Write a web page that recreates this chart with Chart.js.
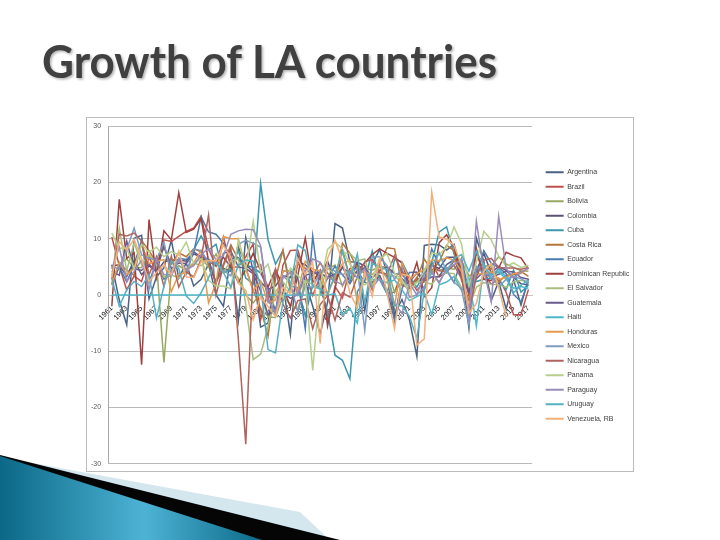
<!DOCTYPE html>
<html>
<head>
<meta charset="utf-8">
<script src="https://cdn.jsdelivr.net/npm/chart.js@4.4.1/dist/chart.umd.min.js"></script>
<style>
    html, body { margin: 0; padding: 0; background: #fff; }
    body { width: 720px; height: 540px; position: relative; overflow: hidden; }
    #deco { position: absolute; left: 0; top: 0; }
    #frame { position: absolute; left: 86px; top: 117px; width: 548px; height: 355px;
             border: 1px solid #bcbcbc; box-sizing: border-box; background: #fff; }
    #wrap { position: absolute; left: -7px; top: -3px; width: 552px; height: 360px; }
</style>
</head>
<body>
<svg id="deco" width="720" height="540" viewBox="0 0 720 540">
    <defs>
        <linearGradient id="blueGrad" gradientUnits="userSpaceOnUse" x1="0" y1="0" x2="262" y2="0">
            <stop offset="0" stop-color="#0b6886"/>
            <stop offset="0.55" stop-color="#4db3d5"/>
            <stop offset="1" stop-color="#0c6a89"/>
        </linearGradient>
        <filter id="shadow" x="-5%" y="-20%" width="110%" height="150%">
            <feDropShadow dx="1.5" dy="1.5" stdDeviation="1" flood-color="#000" flood-opacity="0.3"/>
        </filter>
    </defs>
    <polygon points="22,461 300,512 330,540 0,540" fill="#d4e7ee"/>
    <polygon points="0,455 340,540 0,540" fill="#050505"/>
    <polygon points="0,456 262,540 0,540" fill="url(#blueGrad)"/>
    <text x="42" y="78" font-family="Lato" font-weight="700" font-size="46" fill="#404040"
          textLength="455" lengthAdjust="spacingAndGlyphs" filter="url(#shadow)">Growth of LA countries</text>
</svg>
<div id="frame"><div id="wrap"><canvas id="growthChart"></canvas></div></div>
<script>
// GDP growth (annual %), 1961-2017
const years = [];
for (let y = 1961; y <= 2017; y++) years.push(String(y));

const countries = ['Argentina', 'Brazil', 'Bolivia', 'Colombia', 'Cuba', 'Costa Rica', 'Ecuador',
    'Dominican Republic', 'El Salvador', 'Guatemala', 'Haiti', 'Honduras', 'Mexico', 'Nicaragua',
    'Panama', 'Paraguay', 'Uruguay', 'Venezuela, RB'];

const argentina = [5.4, -0.9, -5.3, 10.1, 10.6, -0.7, 3.2, 4.8, 9.7, 3.0,
    5.7, 1.6, 2.8, 5.5, 0.0, -2.0, 6.9, -4.5, 10.2, 4.2,
    -5.7, -5.0, 4.1, 2.0, -7.0, 7.1, 2.5, -2.0, -7.0, -1.3,
    12.7, 11.9, 5.9, 5.8, -2.8, 5.5, 8.1, 3.9, -3.4, -0.8,
    -4.4, -10.9, 8.8, 9.0, 8.9, 8.0, 9.0, 4.1, -5.9, 10.1,
    6.0, -1.0, 2.4, -2.5, 2.7, -1.8, 2.9];
const brazil = [10.3, 5.2, 0.9, 3.4, 2.4, 6.7, 4.2, 9.8, 9.5, 10.4,
    11.3, 11.9, 14.0, 8.2, 5.2, 10.3, 4.9, 5.0, 6.8, 9.1,
    -4.4, 0.6, -3.4, 5.3, 7.9, 8.0, 3.6, -0.1, 3.3, -4.3,
    1.5, -0.5, 4.7, 5.3, 4.4, 2.2, 3.4, 0.3, 0.5, 4.1,
    1.4, 3.1, 1.1, 5.8, 3.2, 4.0, 6.1, 5.1, -0.1, 7.5,
    4.0, 1.9, 3.0, 0.5, -3.5, -3.5, 1.0];
const bolivia = [2.1, 5.6, 6.4, 4.8, 4.9, 7.0, 5.8, -12.0, 4.4, 5.2,
    4.4, 5.5, 6.6, 5.0, 7.3, 4.4, 4.7, 3.0, 0.0, -1.4,
    0.3, -3.9, -4.0, -0.2, -1.7, -2.6, 2.5, 2.9, 3.8, 4.6,
    5.3, 1.6, 4.3, 4.7, 4.7, 4.4, 5.0, 5.0, 0.4, 2.5,
    1.7, 2.5, 2.7, 4.2, 4.4, 4.8, 4.6, 6.1, 3.4, 4.1,
    5.2, 5.1, 6.8, 5.5, 4.9, 4.3, 4.2];
const colombia = [5.1, 5.4, 3.3, 6.2, 3.6, 5.2, 4.1, 5.9, 6.2, 6.2,
    6.0, 7.7, 6.7, 5.8, 2.3, 4.7, 4.2, 8.5, 5.4, 4.1,
    2.3, 1.0, 1.6, 3.4, 3.1, 5.8, 5.4, 4.1, 3.4, 6.0,
    2.3, 5.0, 2.4, 5.8, 5.2, 2.1, 3.4, 0.6, -4.2, 2.9,
    1.7, 2.5, 3.9, 5.3, 4.7, 6.7, 6.7, 3.3, 1.2, 4.3,
    7.4, 3.9, 5.1, 4.4, 3.1, 2.0, 1.8];
const cuba = [null, null, null, null, null, null, null, null, null, null,
    3.5, 8.0, 10.5, 8.0, 9.0, 4.0, 4.5, 8.0, 3.0, 2.0,
    19.8, 9.8, 5.5, 7.9, 1.6, 1.3, -3.7, 1.8, 1.3, -2.9,
    -10.7, -11.6, -14.9, 0.6, 2.5, 7.8, 2.7, 0.2, 6.3, 5.9,
    3.2, 1.4, 3.8, 5.8, 11.2, 12.1, 7.3, 4.1, 1.4, 2.4,
    2.8, 3.0, 2.7, 1.0, 4.4, 0.5, 1.8];
const costaRica = [1.8, 5.6, 4.4, 3.5, 9.7, 7.9, 5.7, 8.4, 5.5, 7.5,
    6.8, 8.2, 7.7, 5.5, 2.1, 5.5, 8.9, 6.3, 4.9, 0.8,
    -2.3, -7.3, 2.9, 8.0, 0.7, 5.5, 4.8, 3.4, 5.7, 3.9,
    2.2, 9.2, 7.4, 4.7, 3.9, 0.9, 5.6, 8.4, 8.2, 1.8,
    1.1, 2.9, 6.4, 4.3, 5.9, 8.8, 7.9, 2.7, -1.0, 5.0,
    4.3, 4.8, 2.3, 3.5, 3.6, 4.2, 3.3];
const ecuador = [1.9, 5.0, 2.3, 5.4, 9.7, 2.2, 6.0, 2.8, 3.6, 6.5,
    6.3, 7.5, 13.9, 11.2, 10.8, 9.2, 6.5, 6.6, 5.3, 4.9,
    3.9, 1.2, -2.8, 4.2, 4.3, 3.1, -6.0, 10.5, 0.3, 3.0,
    5.1, 3.6, 2.0, 4.3, 2.3, 1.7, 4.3, 3.3, -4.7, 1.1,
    4.0, 4.1, 2.7, 8.2, 5.3, 4.4, 2.2, 6.4, 0.6, 3.5,
    7.9, 5.6, 4.9, 3.8, 0.1, -1.2, 2.4];
const dominicanRep = [-2.0, 17.0, 6.5, 7.5, -12.4, 13.4, 3.2, 11.4, 9.8, 18.2,
    11.1, 11.7, 13.6, 6.0, 5.2, 6.7, 5.0, 2.2, 4.5, 7.4,
    4.3, 1.4, 4.6, 1.3, -2.1, 3.5, 10.1, 2.2, 4.4, -5.5,
    1.0, 8.0, 3.0, 4.3, 5.7, 7.2, 8.2, 7.4, 6.7, 5.7,
    1.8, 5.8, -0.3, 1.3, 9.3, 10.7, 8.5, 3.1, 0.9, 8.3,
    2.8, 2.6, 4.8, 7.6, 7.0, 6.6, 4.6];
const elSalvador = [3.5, 11.9, 4.3, 9.3, 5.4, 7.2, 5.4, 3.2, 3.6, 3.0,
    4.7, 5.7, 5.2, 6.4, 5.6, 4.0, 6.1, 6.4, -1.7, -11.5,
    -10.5, -5.6, 0.6, 2.3, 0.6, 0.2, 2.5, 1.9, 1.0, 4.8,
    3.6, 7.5, 7.4, 6.1, 6.4, 1.7, 4.2, 3.7, 3.4, 2.2,
    1.7, 2.3, 2.3, 1.9, 3.6, 3.9, 3.8, 1.3, -2.1, 1.4,
    2.2, 1.9, 1.8, 1.4, 2.3, 2.6, 2.3];
const guatemala = [4.3, 3.5, 9.6, 4.6, 4.4, 5.5, 4.1, 8.8, 4.7, 5.7,
    5.6, 7.3, 6.8, 6.4, 2.0, 7.4, 7.8, 5.0, 4.7, 3.8,
    0.7, -3.5, -2.6, 0.5, -0.6, 0.1, 3.5, 3.9, 3.9, 3.1,
    3.7, 4.8, 3.9, 4.0, 4.9, 3.0, 4.4, 5.0, 3.8, 3.6,
    2.3, 3.9, 2.5, 3.2, 3.3, 5.4, 6.3, 3.3, 0.5, 2.9,
    4.2, 3.0, 3.7, 4.2, 4.1, 3.1, 2.8];
const haiti = [0, 0, 0, 0, 0, 0, 0, 0, 0, 0,
    0, 0, 0, 0, 0, 0, 0, 0, 0, 0,
    0, 0, 0, 0, 0, 0, 0, 0, 0, 0,
    0.2, -3.5, -2.4, -5.0, 4.4, 2.7, 2.7, 2.2, 2.7, 0.9,
    -1.0, -0.3, 0.4, -3.5, 1.8, 2.3, 3.3, 0.8, 3.1, -5.5,
    5.5, 2.9, 4.2, 2.8, 1.2, 1.5, 1.2];
const honduras = [1.9, 5.8, 3.6, 4.8, 9.0, 5.6, 6.0, 6.3, 0.6, 3.7,
    4.0, 5.7, 7.9, -1.4, 2.1, 10.4, 10.0, 10.0, 4.7, 0.7,
    2.5, -1.4, -0.9, 4.3, 4.2, 0.7, 6.0, 4.6, 4.3, 0.1,
    3.3, 5.6, 6.2, -1.3, 4.1, 3.6, 5.0, 2.9, -1.9, 5.7,
    2.7, 3.8, 4.5, 6.2, 6.1, 6.6, 6.2, 4.2, -2.4, 3.7,
    3.8, 4.1, 2.8, 3.1, 3.8, 3.8, 4.8];
const mexico = [5.0, 4.7, 8.1, 11.9, 7.1, 6.5, 6.3, 9.4, 3.4, 6.5,
    3.8, 8.2, 7.9, 5.8, 5.7, 4.4, 3.4, 9.0, 9.7, 9.2,
    8.5, -0.5, -3.5, 3.4, 2.2, -3.1, 1.7, 1.3, 4.1, 5.2,
    4.2, 3.6, 4.1, 4.7, -6.3, 6.8, 6.8, 5.2, 2.8, 4.9,
    -0.4, 0.0, 1.4, 3.9, 2.3, 4.5, 2.3, 1.1, -5.3, 5.1,
    3.7, 3.6, 1.4, 2.8, 3.3, 2.9, 2.1];
const nicaragua = [2.8, 10.8, 10.5, 11.0, 9.6, 3.6, 6.8, 1.5, 6.9, 1.4,
    4.1, 3.2, 6.4, 14.2, 0.0, 5.2, 8.4, -7.8, -26.5, 4.6,
    5.4, -0.8, 4.6, -1.6, -4.1, -1.0, -0.7, -6.0, -1.7, -0.1,
    -4.5, 0.4, -0.4, 3.3, 5.9, 6.3, 4.0, 3.7, 7.0, 4.1,
    3.0, 0.8, 2.5, 5.3, 4.3, 4.2, 5.3, 2.9, -2.8, 3.2,
    6.2, 6.5, 4.9, 4.8, 4.8, 4.6, 4.9];
const panama = [11.0, 8.3, 8.3, 4.6, 9.0, 7.6, 8.5, 6.8, 7.7, 7.1,
    9.4, 5.6, 6.4, 2.6, 1.6, 1.6, 1.1, 9.8, 4.5, 13.1,
    4.0, 5.5, 0.4, -0.4, 4.8, 3.4, 2.4, -13.4, 1.6, 8.1,
    9.4, 8.2, 5.5, 2.9, 1.8, 2.8, 6.5, 7.3, 3.9, 2.7,
    0.6, 2.2, 4.2, 7.5, 7.2, 8.5, 12.1, 9.1, 1.6, 5.8,
    11.3, 9.8, 6.9, 5.1, 5.7, 4.9, 5.3];
const paraguay = [4.6, 8.5, 2.4, 4.2, 6.2, 1.0, 6.5, 3.6, 3.7, 6.2,
    4.5, 5.2, 7.2, 8.3, 6.3, 7.0, 10.8, 11.4, 11.7, 11.6,
    8.7, -1.0, -3.0, 3.1, 4.0, 0.0, 4.3, 6.4, 5.8, 3.1,
    2.5, 1.8, 4.1, 3.1, 4.7, 1.3, 3.0, 0.6, -1.5, -3.3,
    2.1, 0.0, 3.8, 4.1, 2.1, 4.8, 5.4, 6.4, -4.0, 13.1,
    4.3, -1.2, 14.0, 4.7, 3.0, 4.0, 4.8];
const uruguay = [2.9, -2.0, 0.9, 2.4, 1.5, 3.6, -4.1, 1.6, 6.1, 4.7,
    -0.2, -1.5, 0.4, 3.1, 5.9, 4.0, 1.4, 5.3, 6.2, 6.0,
    1.6, -9.7, -10.3, -1.1, 1.5, 8.9, 7.9, 1.5, 1.1, 0.3,
    3.5, 7.9, 2.7, 7.3, -1.4, 5.6, 5.0, 4.5, -1.9, -1.9,
    -3.8, -7.7, 0.8, 5.0, 7.5, 4.1, 6.5, 7.2, 4.2, 7.8,
    5.2, 3.5, 4.6, 3.2, 0.4, 1.7, 2.7];
const venezuela = [3.2, 9.5, 8.0, 9.9, 6.4, 2.4, 4.0, 5.3, 3.6, 7.8,
    3.2, 3.1, 5.9, 6.1, 6.1, 8.8, 6.7, 2.1, 0.8, -4.4,
    -0.3, -2.1, -3.8, 1.4, 0.2, 6.5, 3.6, 5.8, -8.6, 6.5,
    9.7, 6.1, 0.3, -2.3, 4.0, -0.2, 6.4, 0.3, -6.0, 3.7,
    3.4, -8.9, -7.8, 18.3, 10.3, 9.9, 8.8, 5.3, -3.2, -1.5,
    4.2, 5.6, 1.3, -3.9, null, null, null];

const series = [argentina, brazil, bolivia, colombia, cuba, costaRica, ecuador, dominicanRep,
    elSalvador, guatemala, haiti, honduras, mexico, nicaragua, panama, paraguay, uruguay, venezuela];

const lineColors = ['#4a6283', '#c0504d', '#98a860', '#5d5075', '#3a97ae', '#b5763a', '#4a7bae',
    '#a0403e', '#a9be7e', '#6a5a8c', '#4db8cc', '#e79a4e', '#7f9cc0', '#b0625f',
    '#b6cf8a', '#9a8cb8', '#56b0c4', '#f3b07a'];

const tickFont = { family: 'Liberation Sans', size: 7 };

new Chart(document.getElementById('growthChart'), {
    type: 'line',
    data: {
        labels: years,
        datasets: countries.map((name, i) => ({
            label: name,
            data: series[i],
            borderColor: lineColors[i],
            backgroundColor: lineColors[i],
            borderWidth: 1.5,
            pointRadius: 0,
            tension: 0,
            order: countries.length - i
        }))
    },
    options: {
        responsive: true,
        maintainAspectRatio: false,
        animation: false,
        layout: { padding: { left: 4, top: 5, right: 3, bottom: 4 } },
        scales: {
            x: {
                type: 'category',
                position: { y: 0 },
                offset: true,
                grid: { display: false },
                border: { display: true, color: '#cbc3c3', width: 1 },
                ticks: {
                    autoSkip: false,
                    minRotation: 45,
                    maxRotation: 45,
                    padding: 1,
                    color: '#111',
                    font: { family: 'Liberation Sans', size: 7.5 },
                    callback: function (value, index) {
                        return index % 2 === 0 ? this.getLabelForValue(value) : '';
                    }
                }
            },
            y: {
                min: -30,
                max: 30,
                ticks: { stepSize: 10, padding: 7, color: '#595959', font: tickFont },
                grid: { color: '#a8a8a8', lineWidth: 0.8, drawTicks: false },
                border: { color: '#a8a8a8' }
            },
            gap: {
                position: 'right',
                display: true,
                grid: { display: false },
                border: { display: false },
                ticks: { display: false },
                afterFit: (scale) => { scale.width = 6; }
            }
        },
        plugins: {
            tooltip: { enabled: false },
            legend: {
                position: 'right',
                labels: {
                    boxWidth: 18,
                    boxHeight: 2,
                    padding: 7.5,
                    color: '#404040',
                    font: tickFont,
                    sort: (a, b) => a.datasetIndex - b.datasetIndex,
                    generateLabels: (chart) => Chart.defaults.plugins.legend.labels
                        .generateLabels(chart).map(item => ({ ...item, lineWidth: 0 }))
                }
            }
        }
    }
});
</script>
</body>
</html>
